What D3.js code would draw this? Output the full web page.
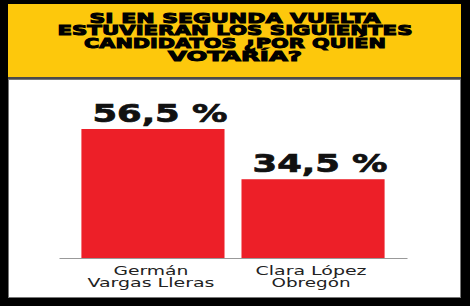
<!DOCTYPE html>
<html>
<head>
<meta charset="utf-8">
<script src="https://cdn.jsdelivr.net/npm/d3@7"></script>
<style>
  body { margin: 0; background: #000; }
  svg { display: block; }
</style>
</head>
<body>
<div id="chart-area"></div>
<script>
// datos de la encuesta
var titleLines = ['SI EN SEGUNDA VUELTA', 'ESTUVIERAN LOS SIGUIENTES', 'CANDIDATOS ¿POR QUIÉN', 'VOTARÍA?'];
var candidates = ['Germán Vargas Lleras', 'Clara López Obregón'];
var candidateLines = [['Germán', 'Vargas Lleras'], ['Clara López', 'Obregón']];
var votes = [56.5, 34.5];

var W = 470, H = 306;

var svg = d3.select('#chart-area')
    .append('svg')
    .attr('width', W)
    .attr('height', H);

svg.append('rect')
    .attr('width', W).attr('height', H)
    .attr('fill', '#000');

// cabecera amarilla
svg.append('rect')
    .attr('x', 8).attr('y', 4)
    .attr('width', 453).attr('height', 73)
    .attr('fill', '#fdc80c');

var titleWidths = [291, 355, 302, 134];
svg.append('g')
    .selectAll('text')
    .data(titleLines)
    .enter()
    .append('text')
    .attr('x', 235)
    .attr('y', function (d, i) { return 22.5 + i * 12.9; })
    .attr('text-anchor', 'middle')
    .attr('font-family', 'DejaVu Sans')
    .attr('font-weight', 'bold')
    .attr('font-size', 14)
    .attr('fill', '#000')
    .attr('stroke', '#000')
    .attr('stroke-width', 1)
    .attr('textLength', function (d, i) { return titleWidths[i]; })
    .attr('lengthAdjust', 'spacingAndGlyphs')
    .text(function (d) { return d; });

// separador y panel blanco
svg.append('rect')
    .attr('x', 8).attr('y', 77)
    .attr('width', 453).attr('height', 2)
    .attr('fill', '#4a4a4a');

svg.append('rect')
    .attr('x', 8.5).attr('y', 79.5)
    .attr('width', 452).attr('height', 218)
    .attr('fill', '#fff')
    .attr('stroke', '#777')
    .attr('stroke-width', 1);

var x = d3.scaleBand()
    .domain(candidates)
    .range([59, 407])
    .paddingInner(0.106)
    .paddingOuter(0.14);

var y = d3.scaleLinear()
    .domain([0, d3.max(votes)])
    .range([258, 129]);

var es = d3.formatLocale({ decimal: ',', thousands: '.', grouping: [3], currency: ['', ''] });
var fmt = es.format('.1f');

var data = candidates.map(function (c, i) {
    return { name: c, lines: candidateLines[i], value: votes[i] };
});

svg.selectAll('rect.bar')
    .data(data)
    .enter()
    .append('rect')
    .attr('class', 'bar')
    .attr('x', function (d) { return x(d.name); })
    .attr('y', function (d) { return y(d.value); })
    .attr('width', x.bandwidth())
    .attr('height', function (d) { return y(0) - y(d.value); })
    .attr('fill', '#ed1f28');

// línea base
var xAxis = d3.axisBottom(x)
    .tickSize(0)
    .tickSizeOuter(0)
    .tickFormat('');
var axisG = svg.append('g')
    .attr('class', 'x-axis')
    .attr('transform', 'translate(0,' + y(0) + ')')
    .call(xAxis);
axisG.select('.domain').attr('stroke', '#999').attr('stroke-width', 1);

// etiquetas de valor
svg.selectAll('text.value')
    .data(data)
    .enter()
    .append('text')
    .attr('class', 'value')
    .attr('x', function (d) { return x(d.name) + x.bandwidth() / 2 + 7; })
    .attr('y', function (d) { return y(d.value) - 7; })
    .attr('text-anchor', 'middle')
    .attr('font-family', 'DejaVu Sans')
    .attr('font-weight', 'bold')
    .attr('font-size', 24)
    .attr('fill', '#111')
    .attr('stroke', '#111')
    .attr('stroke-width', 0.7)
    .attr('textLength', 135)
    .attr('lengthAdjust', 'spacingAndGlyphs')
    .text(function (d) { return fmt(d.value) + ' %'; });

// nombres de candidatos
var nameWidths = [[75, 127], [111, 79]];
var names = svg.selectAll('text.name')
    .data(data)
    .enter()
    .append('text')
    .attr('class', 'name')
    .attr('text-anchor', 'middle')
    .attr('font-family', 'DejaVu Sans')
    .attr('font-size', 13)
    .attr('fill', '#222');

names.selectAll('tspan')
    .data(function (d, j) {
        return d.lines.map(function (l, i) { return { line: l, name: d.name, w: nameWidths[j][i] }; });
    })
    .enter()
    .append('tspan')
    .attr('x', function (d) { return x(d.name) + x.bandwidth() / 2 - 2; })
    .attr('y', function (d, i) { return 275 + i * 12; })
    .attr('textLength', function (d) { return d.w; })
    .attr('lengthAdjust', 'spacingAndGlyphs')
    .text(function (d) { return d.line; });
</script>
</body>
</html>
